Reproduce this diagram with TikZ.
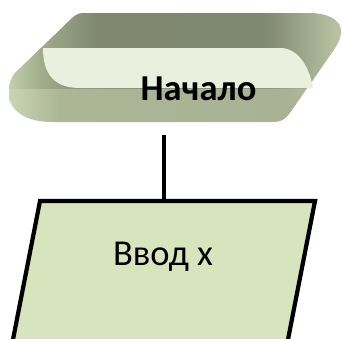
\documentclass[tikz,border=0pt]{standalone}
\usepackage{fontspec}
\setmainfont{Carlito}
\definecolor{bA}{HTML}{CAD5B5}
\definecolor{bB}{HTML}{ACB697}
\definecolor{bB2}{HTML}{A9B294}
\definecolor{bC}{HTML}{BDC7A8}
\definecolor{dA}{HTML}{C3CEAC}
\definecolor{dB}{HTML}{A0AB8A}
\definecolor{dC}{HTML}{808970}
\definecolor{dD}{HTML}{7F8870}
\definecolor{dE}{HTML}{BCC6A6}
\definecolor{lightface}{HTML}{E9F0DE}
\definecolor{iofill}{HTML}{D7E4BD}
\pgfdeclarehorizontalshading{basesh}{100bp}{color(0bp)=(bA); color(25bp)=(bA); color(32.7bp)=(bB); color(67.2bp)=(bB2); color(75bp)=(bC); color(100bp)=(bC)}
\pgfdeclarehorizontalshading{darksh}{100bp}{color(0bp)=(dA); color(25bp)=(dA); color(30bp)=(dB); color(38bp)=(dC); color(63.4bp)=(dD); color(75bp)=(dE); color(100bp)=(dE)}
\tikzset{
  conn/.style={line width=4.2pt, line cap=butt, draw=black},
  iobox/.style={line width=4.2pt, line join=miter, draw=black, fill=iofill},
  bigbold/.style={font=\bfseries\fontsize{36.5}{42}\selectfont, text=black, inner sep=0pt, anchor=base},
  bigreg/.style={font=\fontsize{36.5}{42}\selectfont, text=black, inner sep=0pt, anchor=base}
}
\begin{document}
\begin{tikzpicture}[x=1pt,y=-1pt]
\useasboundingbox (0,0) rectangle (342,338);
% terminator (3D look)
\begin{scope}
  \clip (83,13) -- (307,13) .. controls (335,13) and (350,25) .. (335,48) -- (292,110) .. controls (286,119) and (282,122) .. (272,122) -- (52,122) .. controls (12,122) and (0,97) .. (14,74) -- (68,22) .. controls (73,17) and (77,13) .. (83,13) -- cycle;
  \shade[shading=basesh] (9,0) rectangle (342,130);
  \shade[shading=darksh] (9,0) rectangle (342,88);
\end{scope}
\fill[lightface] (43,48) -- (280,48) .. controls (300,48) and (310,70) .. (313,88) -- (80,88) .. controls (55,88) and (43,75) .. (43,48) -- cycle;
\node[bigbold] (start) at (198.5,100) {Начало};
% connector
\coordinate (c1) at (164,135);
\coordinate (c2) at (164,201);
\draw[conn] (c1) -- (c2);
% input box
\draw[iobox] (40,201) -- (315,201) -- (284,360) -- (9,360) -- cycle;
\node[bigreg] (io) at (163,265) {Ввод x};
\end{tikzpicture}
\end{document}
